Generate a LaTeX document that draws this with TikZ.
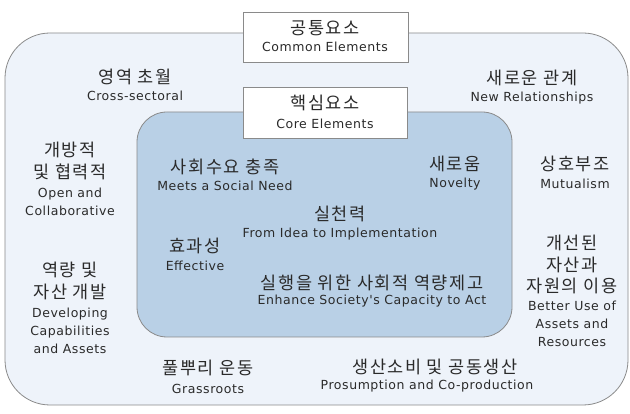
\documentclass[tikz,border=0pt]{standalone}
\usepackage{fontspec}
\newfontfamily\kr[LetterSpace=9]{Noto Sans CJK KR}
\newfontfamily\en[LetterSpace=4.5]{DejaVu Sans}
\definecolor{outerfill}{HTML}{EEF3FA}
\definecolor{innerfill}{HTML}{B9D0E6}
\definecolor{edge}{HTML}{8A8A8A}
\definecolor{txt}{HTML}{2A2A2A}
\tikzset{
  kor/.style={font=\kr\fontsize{17.5}{21.5}\selectfont, text=txt, align=center, inner sep=0pt},
  eng/.style={font=\en\fontsize{12.5}{18}\selectfont, text=txt, align=center, inner sep=0pt},
  titlebox/.style={draw=edge, fill=white, line width=0.8pt},
}
\begin{document}
\begin{tikzpicture}[x=1pt,y=-1pt]
\useasboundingbox (0,0) rectangle (630,414);
\fill[white] (0,0) rectangle (630,414);
% outer region
\draw[draw=edge, fill=outerfill, line width=0.8pt, rounded corners=45pt] (5,33) rectangle (628,405);
% inner region
\draw[draw=edge, fill=innerfill, line width=0.8pt, rounded corners=30pt] (137,112) rectangle (512,337);
% title boxes
\node[titlebox, minimum width=165pt, minimum height=50pt] (common) at (325.5,37) {};
\node[titlebox, minimum width=164pt, minimum height=51pt] (core) at (325,112.5) {};
\node[kor] (commonk) at (325,28) {공통요소};
\node[eng] (commone) at (325,47) {Common Elements};
\node[kor] (corek) at (325,103) {핵심요소};
\node[eng] (coree) at (325,124) {Core Elements};
% outer labels
\node[kor] (crossk) at (135,77) {영역 초월};
\node[eng] (crosse) at (135,96) {Cross-sectoral};
\node[kor] (newk) at (532,78) {새로운 관계};
\node[eng] (newe) at (532,98) {New Relationships};
\node[kor, align=center] (openk) at (70,161) {개방적\\및 협력적};
\node[eng] (opene) at (70,201.5) {Open and\\Collaborative};
\node[kor] (mutk) at (575,164) {상호부조};
\node[eng] (mute) at (575,184) {Mutualism};
\node[kor] (devk) at (70,281) {역량 및\\자산 개발};
\node[eng] (deve) at (70,330.5) {Developing\\Capabilities\\and Assets};
\node[kor] (betk) at (572,264.5) {개선된\\자산과\\자원의 이용};
\node[eng] (bete) at (572,324) {Better Use of\\Assets and\\Resources};
\node[kor] (grassk) at (208,368) {풀뿌리 운동};
\node[eng] (grasse) at (208,389) {Grassroots};
\node[kor] (prosk) at (435,367) {생산소비 및 공동생산};
\node[eng] (prose) at (427,386) {Prosumption and Co-production};
% inner labels
\node[kor] (needk) at (225,167) {사회수요 충족};
\node[eng] (neede) at (225,186) {Meets a Social Need};
\node[kor] (novk) at (455,164) {새로움};
\node[eng] (nove) at (455,184) {Novelty};
\node[kor] (implk) at (340,214) {실천력};
\node[eng] (imple) at (340,234) {From Idea to Implementation};
\node[kor] (effk) at (195,246) {효과성};
\node[eng] (effe) at (195,266) {Effective};
\node[kor] (capk) at (372,283) {실행을 위한 사회적 역량제고};
\node[eng] (cape) at (372,301) {Enhance Society's Capacity to Act};
\end{tikzpicture}
\end{document}
